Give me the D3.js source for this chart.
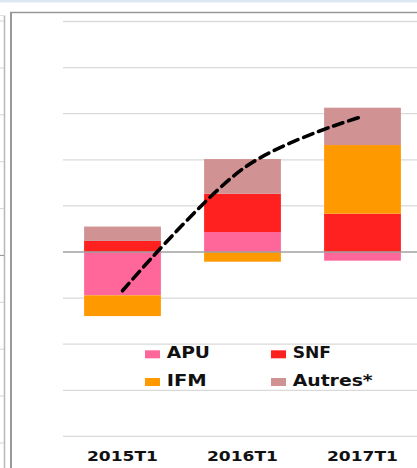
<!DOCTYPE html>
<html>
<head>
<meta charset="utf-8">
<script src="https://cdn.jsdelivr.net/npm/d3@7"></script>
<style>
  html, body { margin: 0; padding: 0; background: #fff; }
  svg { display: block; }
</style>
</head>
<body>
<svg id="chart" width="417" height="468"></svg>
<script>
// ---- data ----
const categories = ["2015T1", "2016T1", "2017T1"];
const seriesNames = ["APU", "SNF", "IFM", "Autres*"];
const APU    = [-0.47, 0.217, -0.094];
const SNF    = [0.12, 0.415, 0.415];
const IFM    = [-0.225, -0.105, 0.745];
const Autres = [0.156, 0.376, 0.405];
const total  = [-0.42, 0.90, 1.47];
const yTicks = [-2, -1.5, -1, -0.5, 0, 0.5, 1, 1.5, 2, 2.5];
const colors = ["#ff6699", "#ff2020", "#ff9900", "#d09292"];

const svg = d3.select("#chart");
const W = 417, H = 468;

// background decorations (screenshot frame)
svg.append("rect").attr("x", 0).attr("y", 0).attr("width", W).attr("height", 2.5).attr("fill", "#dde6f3");
// neighbouring panel edge
svg.append("line").attr("x1", 4.5).attr("x2", 4.5).attr("y1", 15).attr("y2", H).attr("stroke", "#b8b8b8").attr("stroke-width", 1.5);
svg.append("line").attr("x1", 0).attr("x2", 5).attr("y1", 15.5).attr("y2", 15.5).attr("stroke", "#e2e2e2").attr("stroke-width", 1);
const ySide = d3.scaleLinear().domain([-2, 2.5]).range([443, 21]);
svg.append("g").selectAll("line").data(yTicks).join("line")
  .attr("x1", 0).attr("x2", 4)
  .attr("y1", d => ySide(d)).attr("y2", d => ySide(d))
  .attr("stroke", d => d === 0 ? "#999" : "#d9d9d9").attr("stroke-width", 1.2);
// main frame
svg.append("line").attr("x1", 11).attr("x2", 11).attr("y1", 12).attr("y2", H).attr("stroke", "#999").attr("stroke-width", 2);
svg.append("line").attr("x1", 10).attr("x2", W).attr("y1", 12.5).attr("y2", 12.5).attr("stroke", "#999").attr("stroke-width", 1.6);

// scales
const x = d3.scaleBand().domain(categories).range([62.5, 422.5]).paddingInner(0.36).paddingOuter(0.18);
const y = d3.scaleLinear().domain([-2, 2.5]).range([436.4, 21.5]);

// gridlines
svg.append("g").selectAll("line").data(yTicks.filter(d => d !== 0)).join("line")
  .attr("x1", 63).attr("x2", 423)
  .attr("y1", d => y(d)).attr("y2", d => y(d))
  .attr("stroke", "#dadada").attr("stroke-width", 1.3);

// stacked bars
const rows = categories.map((c, i) => ({cat: c, "APU": APU[i], "SNF": SNF[i], "IFM": IFM[i], "Autres*": Autres[i]}));
const stack = d3.stack().keys(seriesNames).offset(d3.stackOffsetDiverging);
const layers = stack(rows);
svg.append("g").selectAll("g").data(layers).join("g")
  .attr("fill", (d, i) => colors[i])
  .selectAll("rect").data(d => d).join("rect")
  .attr("x", d => x(d.data.cat))
  .attr("width", x.bandwidth())
  .attr("y", d => y(Math.max(d[0], d[1])))
  .attr("height", d => Math.abs(y(d[0]) - y(d[1])));

// zero line
svg.append("line").attr("x1", 63).attr("x2", 423).attr("y1", y(0)).attr("y2", y(0))
  .attr("stroke", "#a0a0a0").attr("stroke-width", 1.5);

// total line
const line = d3.line()
  .x((d, i) => x(categories[i]) + x.bandwidth() / 2)
  .y(d => y(d))
  .curve(d3.curveCardinal.tension(0));
svg.append("path").datum(total)
  .attr("d", line)
  .attr("fill", "none").attr("stroke", "#000").attr("stroke-width", 3.6)
  .attr("stroke-dasharray", "10,6").attr("stroke-linecap", "round");

// x axis labels
const labelW = 71;
svg.append("g").selectAll("text").data(categories).join("text")
  .attr("x", d => x(d) + x.bandwidth() / 2 - labelW / 2)
  .attr("y", 460.7)
  .attr("textLength", labelW).attr("lengthAdjust", "spacingAndGlyphs")
  .attr("font-family", "DejaVu Sans").attr("font-weight", "bold").attr("font-size", 14)
  .attr("fill", "#111")
  .text(d => d);

// legend
const legendPos = [
  {x: 145, y: 358.3, w: 43.3},
  {x: 271, y: 358.3, w: 38.3},
  {x: 145, y: 386, w: 40},
  {x: 271, y: 386, w: 80}
];
const lg = svg.append("g").selectAll("g").data(seriesNames).join("g");
lg.append("rect")
  .attr("x", (d, i) => legendPos[i].x).attr("y", (d, i) => legendPos[i].y - 8)
  .attr("width", 15).attr("height", 8)
  .attr("fill", (d, i) => colors[i]);
lg.append("text")
  .attr("x", (d, i) => legendPos[i].x + 21.7)
  .attr("y", (d, i) => legendPos[i].y)
  .attr("textLength", (d, i) => legendPos[i].w).attr("lengthAdjust", "spacingAndGlyphs")
  .attr("font-family", "DejaVu Sans").attr("font-weight", "bold").attr("font-size", 15)
  .attr("fill", "#111")
  .text(d => d);
</script>
</body>
</html>
